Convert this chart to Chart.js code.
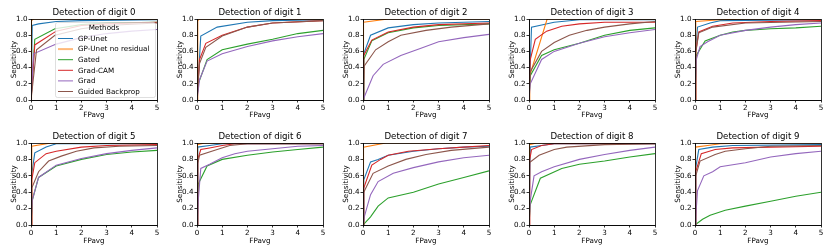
<!DOCTYPE html>
<html>
<head>
<meta charset="utf-8">
<script src="https://cdn.jsdelivr.net/npm/chart.js@4"></script>
<style>
  body { margin: 0; background: #fff; }
  #wrap { position: relative; width: 830px; height: 252px; overflow: hidden; }
  #wrap canvas { position: absolute; }
</style>
</head>
<body>
<div id="wrap"></div>
<script>
// methods / series names, same order in every panel
const methods = ['GP-Unet', 'GP-Unet no residual', 'Gated', 'Grad-CAM', 'Grad', 'Guided Backprop'];
const methodColors = ['#1f77b4', '#ff7f0e', '#2ca02c', '#d62728', '#9467bd', '#8c564b'];
const legendTitle = 'Methods';
const xLabel = 'FPavg';
const yLabel = 'Sensitivity';
const xTicks = [0, 1, 2, 3, 4, 5];
const yTicks = [0, 0.2, 0.4, 0.6, 0.8, 1.0];

// curves: [FPavg, sensitivity] per method
const digit0 = [
  [[0,0],[0.05,0.92],[0.3,0.94],[1,0.97],[2,0.98],[5,0.99]],
  [[0,0],[0.02,0.98],[0.1,1],[5,1]],
  [[0,0],[0.15,0.75],[0.95,0.88],[2,0.93],[3,0.95],[5,0.96]],
  [[0,0],[0.15,0.68],[1,0.85],[2,0.92],[3,0.94],[5,0.96]],
  [[0,0],[0.1,0.57],[1,0.69],[2,0.77],[3,0.82],[4,0.85],[5,0.87]],
  [[0,0],[0.22,0.62],[0.95,0.8],[2,0.88],[3,0.92],[5,0.95]]
];
const digit1 = [
  [[0,0],[0.15,0.79],[0.8,0.9],[2,0.96],[3,0.98],[5,0.99]],
  [[0,0],[0.03,0.98],[0.1,1],[5,1]],
  [[0,0],[0.05,0.2],[0.4,0.5],[1,0.62],[2,0.69],[3,0.75],[4,0.82],[5,0.86]],
  [[0,0],[0.1,0.5],[0.35,0.7],[1,0.8],[2,0.9],[3,0.95],[5,0.98]],
  [[0,0],[0.1,0.25],[0.4,0.48],[1,0.57],[2,0.66],[3,0.73],[4,0.78],[5,0.82]],
  [[0,0],[0.1,0.45],[0.35,0.65],[1,0.79],[2,0.9],[3,0.95],[5,0.98]]
];
const digit2 = [
  [[0,0],[0.03,0.57],[0.3,0.8],[1,0.89],[2,0.93],[3,0.95],[4,0.96],[5,0.97]],
  [[0,0],[0.02,0.96],[1,1],[5,1]],
  [[0,0],[0.03,0.5],[0.35,0.73],[1,0.83],[2,0.89],[3,0.92],[5,0.94]],
  [[0,0],[0.03,0.55],[0.35,0.74],[1,0.84],[2,0.9],[3,0.93],[5,0.95]],
  [[0,0],[0.4,0.3],[0.8,0.44],[1.5,0.55],[2.3,0.64],[3,0.72],[4,0.77],[5,0.81]],
  [[0,0],[0.05,0.42],[0.5,0.62],[1,0.72],[1.5,0.8],[2.5,0.86],[3.5,0.9],[5,0.94]]
];
const digit3 = [
  [[0,0],[0.1,0.9],[1,0.96],[2,0.99],[5,0.99]],
  [[0,0],[0.03,0.3],[0.72,1],[5,1]],
  [[0,0],[0.05,0.3],[0.5,0.55],[1,0.62],[2,0.7],[3,0.8],[4,0.86],[5,0.89]],
  [[0,0],[0.05,0.5],[0.25,0.75],[0.7,0.85],[1.3,0.91],[2,0.94],[3,0.96],[5,0.96]],
  [[0,0],[0.05,0.2],[0.5,0.5],[1,0.6],[2,0.7],[3,0.78],[4,0.83],[5,0.87]],
  [[0,0],[0.05,0.35],[0.5,0.6],[1,0.71],[1.6,0.8],[2.3,0.86],[3,0.9],[4,0.94],[5,0.97]]
];
const digit4 = [
  [[0,0],[0.02,0.6],[0.1,0.9],[0.6,0.95],[1,0.98],[5,0.99]],
  [[0,0],[0.03,0.97],[1,0.99],[2,1],[5,1]],
  [[0,0],[0.05,0.55],[0.4,0.73],[1,0.8],[1.5,0.84],[2,0.86],[3,0.88],[4,0.89],[5,0.91]],
  [[0,0],[0.03,0.6],[0.15,0.84],[0.7,0.91],[1.5,0.95],[3,0.97],[5,0.98]],
  [[0,0],[0.05,0.5],[0.2,0.66],[0.5,0.72],[1,0.8],[2,0.86],[3,0.9],[4,0.93],[5,0.95]],
  [[0,0],[0.03,0.58],[0.15,0.83],[0.7,0.9],[2,0.95],[5,0.97]]
];
const digit5 = [
  [[0,0],[0.02,0.6],[0.15,0.88],[0.6,0.95],[1,0.99],[5,0.99]],
  [[0,0],[0.03,0.96],[0.8,1],[5,1]],
  [[0,0],[0.05,0.3],[0.3,0.58],[1,0.72],[2,0.8],[3,0.86],[4,0.89],[5,0.91]],
  [[0,0],[0.03,0.55],[0.15,0.76],[0.6,0.87],[1,0.9],[2,0.95],[3,0.97],[5,0.98]],
  [[0,0],[0.05,0.3],[0.3,0.58],[1,0.73],[2,0.81],[3,0.87],[4,0.91],[5,0.94]],
  [[0,0],[0.03,0.45],[0.3,0.65],[0.7,0.78],[1.2,0.84],[1.8,0.9],[2.5,0.94],[3.5,0.96],[5,0.97]]
];
const digit6 = [
  [[0,0],[0.03,0.95],[0.5,0.97],[1,0.99],[5,0.99]],
  [[0,0],[0.02,0.98],[0.3,1],[5,1]],
  [[0,0],[0.05,0.5],[0.4,0.72],[1,0.8],[2,0.85],[3,0.89],[4,0.92],[5,0.95]],
  [[0,0],[0.03,0.8],[0.15,0.92],[0.5,0.94],[1,0.97],[1.5,0.99],[5,0.99]],
  [[0,0],[0.05,0.3],[0.15,0.69],[0.5,0.74],[1,0.82],[1.5,0.87],[2,0.9],[3,0.93],[4,0.96],[5,0.97]],
  [[0,0],[0.03,0.75],[0.1,0.85],[0.8,0.92],[1.3,0.97],[2,0.99],[5,0.99]]
];
const digit7 = [
  [[0,0],[0.03,0.55],[0.3,0.77],[0.6,0.8],[1,0.85],[2,0.9],[3,0.93],[4,0.95],[5,0.96]],
  [[0,0],[0.02,0.95],[0.9,1],[5,1]],
  [[0,0],[0.3,0.1],[0.6,0.23],[1,0.33],[2,0.4],[3,0.5],[4,0.58],[5,0.66]],
  [[0,0],[0.03,0.45],[0.35,0.73],[0.7,0.8],[1,0.85],[1.8,0.9],[3,0.93],[4,0.95],[5,0.97]],
  [[0,0],[0.05,0.1],[0.3,0.37],[0.6,0.53],[1.2,0.63],[2,0.7],[3,0.77],[4,0.82],[5,0.85]],
  [[0,0],[0.03,0.4],[0.4,0.63],[1,0.72],[1.7,0.8],[2.5,0.86],[3.5,0.91],[5,0.95]]
];
const digit8 = [
  [[0,0],[0.05,0.95],[0.5,0.97],[1,0.99],[5,0.99]],
  [[0,0],[0.02,0.98],[0.3,1],[5,1]],
  [[0,0],[0.05,0.25],[0.45,0.57],[1.3,0.69],[2,0.74],[3,0.78],[4,0.83],[5,0.87]],
  [[0,0],[0.03,0.8],[0.1,0.92],[0.5,0.97],[1,0.99],[5,0.99]],
  [[0,0],[0.05,0.3],[0.2,0.6],[0.5,0.65],[1,0.71],[2,0.8],[3,0.86],[4,0.91],[5,0.95]],
  [[0,0],[0.02,0.76],[0.4,0.85],[1,0.92],[1.5,0.95],[3,0.98],[5,0.99]]
];
const digit9 = [
  [[0,0],[0.03,0.7],[0.15,0.92],[0.7,0.95],[1.5,0.97],[5,0.98]],
  [[0,0],[0.02,0.95],[0.5,0.97],[1,0.99],[2,1],[5,1]],
  [[0,0],[0.3,0.07],[0.6,0.12],[1.2,0.18],[2,0.23],[3,0.29],[4,0.35],[5,0.4]],
  [[0,0],[0.03,0.65],[0.25,0.87],[0.8,0.92],[1.5,0.94],[3,0.95],[5,0.96]],
  [[0,0],[0.03,0.1],[0.1,0.42],[0.35,0.6],[0.7,0.65],[1,0.71],[2,0.76],[3,0.83],[4,0.87],[5,0.9]],
  [[0,0],[0.03,0.6],[0.2,0.78],[0.8,0.86],[1.2,0.9],[2,0.93],[3,0.96],[5,0.97]]
];
const digits = [digit0, digit1, digit2, digit3, digit4, digit5, digit6, digit7, digit8, digit9];

// layout of the 2x5 grid
const axLeft = [31, 197, 363, 529, 695];
const rows = [
  { top: 0, height: 126, xAxisH: 26 },
  { top: 124, height: 128, xAxisH: 27 }
];
const FONT = 'DejaVu Sans';
const smallFont = { family: FONT, size: 7.2 };

// top + right spines (chart.js only draws the axis borders), and the panel title
const framePlugin = {
  id: 'frame',
  afterDatasetsDraw(chart) {
    const a = chart.chartArea, ctx = chart.ctx;
    ctx.save();
    ctx.strokeStyle = '#000';
    ctx.lineWidth = 0.8;
    ctx.strokeRect(Math.round(a.left) + 0.5, Math.round(a.top) + 0.5,
      Math.round(a.right - a.left), Math.round(a.bottom - a.top));
    ctx.font = '8.64px "' + FONT + '"';
    ctx.fillStyle = '#000';
    ctx.textAlign = 'center';
    ctx.textBaseline = 'middle';
    ctx.fillText(chart.options.plugins.frame.title, (a.left + a.right) / 2, a.top - 6);
    ctx.restore();
  }
};

// matplotlib-like legend box, only in the first panel
const legendPlugin = {
  id: 'mplLegend',
  afterDraw(chart) {
    const ctx = chart.ctx;
    const bx = 55, by = 22, bw = 100, bh = 75;
    ctx.save();
    ctx.globalAlpha = 0.8;
    ctx.fillStyle = '#fff';
    ctx.strokeStyle = '#ccc';
    ctx.lineWidth = 0.8;
    ctx.beginPath();
    ctx.roundRect(bx + 0.5, by + 0.5, bw, bh, 2);
    ctx.fill();
    ctx.stroke();
    ctx.globalAlpha = 1;
    ctx.font = '7.2px "' + FONT + '"';
    ctx.fillStyle = '#000';
    ctx.textBaseline = 'middle';
    ctx.textAlign = 'center';
    ctx.fillText(legendTitle, 104, 28.5);
    ctx.textAlign = 'left';
    methods.forEach((m, k) => {
      const y = 38.5 + k * 10.6;
      ctx.beginPath();
      ctx.strokeStyle = methodColors[k];
      ctx.lineWidth = k === 1 ? 2 : 1;
      ctx.globalAlpha = k === 1 ? 0.55 : 1;
      ctx.moveTo(58, y);
      ctx.lineTo(73, y);
      ctx.stroke();
      ctx.globalAlpha = 1;
      ctx.fillText(m, 78, y + 0.5);
    });
    ctx.restore();
  }
};

const wrap = document.getElementById('wrap');

digits.forEach((curves, d) => {
  const row = rows[Math.floor(d / 5)];
  const col = d % 5;
  const canvas = document.createElement('canvas');
  canvas.width = 166;
  canvas.height = row.height;
  canvas.style.left = (axLeft[col] - 31) + 'px';
  canvas.style.top = row.top + 'px';
  wrap.appendChild(canvas);

  const datasets = curves.map((pts, k) => ({
    label: methods[k],
    data: pts.map(p => ({ x: p[0], y: p[1] })),
    showLine: true,
    borderColor: methodColors[k],
    backgroundColor: methodColors[k],
    borderWidth: 1.1,
    pointRadius: 0,
    tension: 0,
    order: methods.length - k
  }));

  new Chart(canvas, {
    type: 'scatter',
    data: { datasets },
    options: {
      responsive: false,
      animation: false,
      devicePixelRatio: 1,
      layout: { padding: { left: 0, right: 9, top: 19, bottom: 0 } },
      plugins: {
        legend: { display: false },
        tooltip: { enabled: false },
        title: { display: false },
        frame: { title: 'Detection of digit ' + d }
      },
      scales: {
        x: {
          type: 'linear',
          min: 0, max: 5,
          afterBuildTicks: s => { s.ticks = xTicks.map(v => ({ value: v })); },
          ticks: { color: '#000', font: smallFont, padding: 1, maxRotation: 0,
            callback: v => String(v) },
          grid: { drawOnChartArea: false, drawTicks: true, tickLength: 2.5, color: '#000', lineWidth: 0.8 },
          border: { color: '#000', width: 0.8 },
          title: { display: true, text: xLabel, color: '#000', font: smallFont,
            padding: { top: 0, bottom: 6.5 } },
          afterFit: s => { s.height = row.xAxisH; }
        },
        y: {
          type: 'linear',
          min: 0, max: 1,
          afterBuildTicks: s => { s.ticks = yTicks.map(v => ({ value: v })); },
          ticks: { color: '#000', font: smallFont, padding: 1,
            callback: v => v.toFixed(1) },
          grid: { drawOnChartArea: false, drawTicks: true, tickLength: 2.5, color: '#000', lineWidth: 0.8 },
          border: { color: '#000', width: 0.8 },
          title: { display: true, text: yLabel, color: '#000', font: smallFont,
            padding: { top: 9.5, bottom: 0 } },
          afterFit: s => { s.width = 31; }
        }
      }
    },
    plugins: d === 0 ? [framePlugin, legendPlugin] : [framePlugin]
  });
});
</script>
</body>
</html>
